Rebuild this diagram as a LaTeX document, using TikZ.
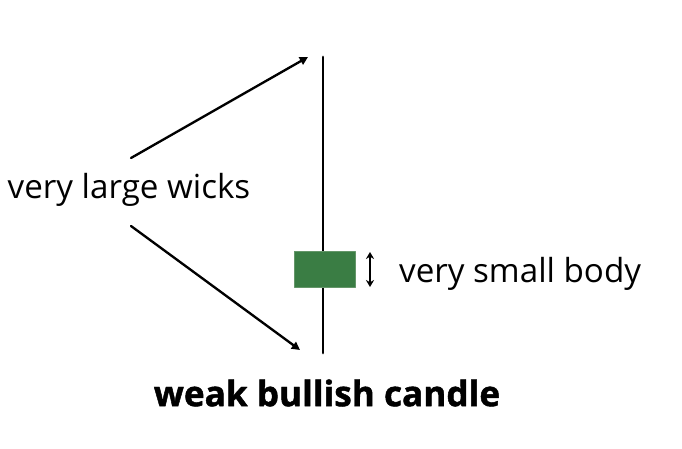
\documentclass[tikz,border=0pt]{standalone}
\usepackage{fontspec}
\setmainfont{Open Sans}
\newfontfamily\heavyfont{Open Sans}[BoldFeatures={FakeBold=1.3}]
\usetikzlibrary{arrows.meta}

\definecolor{bodygreen}{RGB}{58,125,68}
\definecolor{edgegreen}{RGB}{100,150,105}

\begin{document}
\begin{tikzpicture}[x=0.03cm, y=-0.03cm, line cap=round, line join=round]

% --- Frame ---
\useasboundingbox (0,0) rectangle (682,448);

% --- Coordinates ---
\coordinate (H) at (323,57);
\coordinate (L) at (323,353);
\coordinate (P) at (131,158);
\coordinate (Q) at (131,226);
\coordinate (T) at (308,57);
\coordinate (S) at (300,350);
\coordinate (U) at (370,252);
\coordinate (V) at (370,287);

% --- Drawing ---
% Draw the wick
\draw[line width=2.3pt] (H) -- (L);

% Draw the candle body
\draw[edgegreen, line width=0.6pt, fill=bodygreen] (294,251) rectangle (355,287);

% Draw the arrows to the wicks
\draw[line width=2pt, -{Triangle[length=7pt, width=7pt]}] (P) -- (T);
\draw[line width=2pt, -{Triangle[length=7pt, width=7pt]}] (Q) -- (S);

% Draw the body size marker
\draw[line width=1.9pt, {Stealth[length=6pt, width=7pt]}-{Stealth[length=6pt, width=7pt]}] (U) -- (V);

% --- Labels ---
\node[font=\fontsize{28.3}{32}\selectfont] (wicks) at (129,190) {very large wicks};
\node[anchor=west, font=\fontsize{28.3}{32}\selectfont] (body) at (395,274) {very small body};
\node[font=\fontsize{30}{34}\selectfont\heavyfont\bfseries] (title) at (327,393) {weak bullish candle};

\end{tikzpicture}
\end{document}
